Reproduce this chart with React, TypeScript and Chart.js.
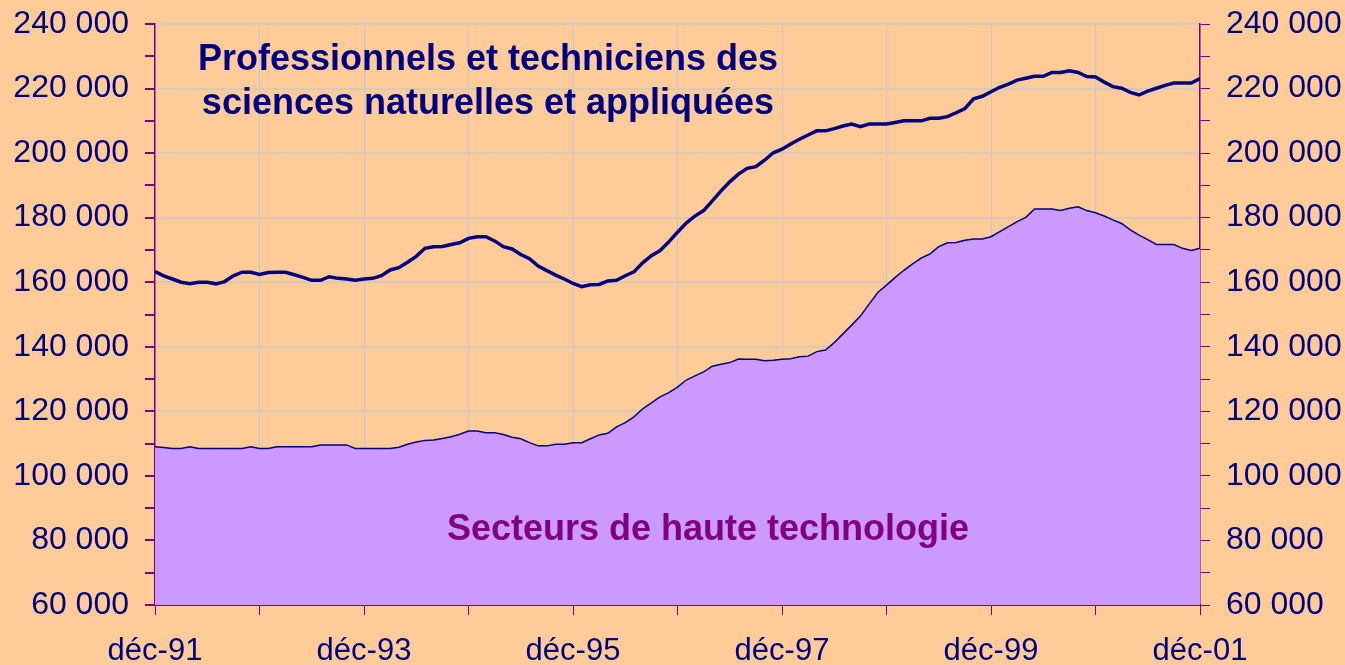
import React, { useEffect, useRef } from "react";
import { Chart, registerables } from "chart.js";

Chart.register(...registerables);

// Monthly data, déc-91 (index 0) to déc-01 (index 120), in thousands
const professionnels: number[] = [
  163.3, 162.0, 161.0, 160.0, 159.5, 160.0, 160.0, 159.5, 160.2, 162.0, 163.1, 163.1,
  162.4, 163.0, 163.1, 163.1, 162.3, 161.5, 160.6, 160.6, 161.7, 161.2, 161.0, 160.6,
  161.0, 161.2, 162.0, 163.8, 164.5, 166.2, 168.0, 170.5, 171.0, 171.1, 171.7, 172.2,
  173.6, 174.1, 174.1, 172.8, 171.0, 170.3, 168.6, 167.3, 165.0, 163.6, 162.2, 161.0,
  159.6, 158.6, 159.2, 159.3, 160.4, 160.6, 162.0, 163.2, 166.0, 168.2, 169.8, 172.5,
  175.5, 178.3, 180.5, 182.2, 185.2, 188.3, 191.1, 193.5, 195.3, 195.8, 197.8, 200.1,
  201.2, 202.8, 204.3, 205.6, 206.9, 206.9, 207.6, 208.4, 209.0, 208.2, 209.0, 209.0,
  209.0, 209.5, 210.0, 210.0, 210.0, 210.8, 210.8, 211.3, 212.5, 213.8, 216.8, 217.6,
  219.0, 220.4, 221.4, 222.6, 223.2, 223.8, 223.8, 225.0, 225.0, 225.5, 225.0, 223.7,
  223.6, 222.0, 220.6, 220.1, 218.8, 218.0, 219.2, 220.1, 221.0, 221.7, 221.7, 221.7,
  223.1,
];

const secteurs: number[] = [
  109.0, 108.8, 108.5, 108.5, 109.0, 108.5, 108.5, 108.5, 108.5, 108.5, 108.5, 109.0,
  108.5, 108.5, 109.0, 109.0, 109.0, 109.0, 109.0, 109.6, 109.6, 109.6, 109.6, 108.5,
  108.5, 108.5, 108.5, 108.5, 108.9, 109.8, 110.5, 111.0, 111.1, 111.6, 112.1, 112.9,
  113.9, 113.9, 113.4, 113.4, 112.8, 112.0, 111.5, 110.3, 109.3, 109.3, 109.8, 109.8,
  110.3, 110.3, 111.5, 112.7, 113.2, 115.2, 116.5, 118.3, 120.8, 122.6, 124.5, 125.8,
  127.5, 129.7, 131.0, 132.2, 134.0, 134.6, 135.1, 136.2, 136.1, 136.1, 135.7, 135.8,
  136.1, 136.3, 136.9, 137.1, 138.5, 139.0, 141.3, 144.0, 146.7, 149.5, 153.2, 156.8,
  159.1, 161.5, 163.7, 165.7, 167.5, 168.8, 171.0, 172.2, 172.3, 173.0, 173.4, 173.4,
  174.1, 175.7, 177.2, 178.8, 180.1, 182.7, 182.7, 182.7, 182.2, 182.9, 183.4, 182.2,
  181.5, 180.5, 179.3, 178.2, 176.2, 174.6, 173.2, 171.7, 171.7, 171.7, 170.5, 169.8,
  170.5,
];

const xTickLabels: string[] = ["déc-91", "déc-93", "déc-95", "déc-97", "déc-99", "déc-01"];
const titleLines: string[] = ["Professionnels et techniciens des", "sciences naturelles et appliquées"];
const areaLabel = "Secteurs de haute technologie";

const FONT = "'Liberation Sans', Arial, Helvetica, sans-serif";
const NAVY = "#000080";
const PURPLE = "#800080";
const BG = "#FFCC99";

const fmt = (v: number) => {
  const k = Math.round(v / 1000);
  return `${k} 000`;
};

export default function App() {
  const ref = useRef<HTMLCanvasElement | null>(null);

  useEffect(() => {
    if (!ref.current) return;
    const profPts = professionnels.map((v, i) => ({ x: i, y: v * 1000 }));
    const sectPts = secteurs.map((v, i) => ({ x: i, y: v * 1000 }));

    const textPlugin = {
      id: "texts",
      afterDatasetsDraw(chart: any) {
        const { ctx } = chart;
        ctx.save();
        ctx.textAlign = "center";
        ctx.textBaseline = "alphabetic";
        ctx.font = `bold 36px ${FONT}`;
        ctx.fillStyle = NAVY;
        ctx.fillText(titleLines[0], 488, 70);
        ctx.fillText(titleLines[1], 488, 114);
        ctx.fillStyle = PURPLE;
        ctx.fillText(areaLabel, 708, 540);
        ctx.restore();
      },
    };

    const yTicks = {
      color: NAVY,
      font: { family: FONT, size: 32 },
      padding: 16,
      stepSize: 10000,
      autoSkip: false,
      callback: (v: any) => (Number(v) % 20000 === 0 ? fmt(Number(v)) : ""),
    };

    const fitY = (w: number) => (scale: any) => {
      scale.width = w;
      scale.paddingTop = 0;
      scale.paddingBottom = 0;
    };

    const chart = new Chart(ref.current, {
      type: "line",
      data: {
        datasets: [
          {
            label: "Professionnels",
            data: profPts,
            borderColor: NAVY,
            borderWidth: 3.5,
            pointRadius: 0,
            fill: false,
            tension: 0,
            yAxisID: "y",
            order: 0,
          },
          {
            label: "Secteurs",
            data: sectPts,
            borderColor: NAVY,
            borderWidth: 1.5,
            backgroundColor: "#CC99FF",
            pointRadius: 0,
            fill: "start",
            tension: 0,
            yAxisID: "y2",
            order: 1,
          },
        ],
      },
      options: {
        animation: false,
        responsive: false,
        events: [],
        layout: { padding: { top: 24, bottom: 0, left: 0, right: 0 } },
        plugins: {
          legend: { display: false },
          tooltip: { enabled: false },
          title: { display: false },
        },
        scales: {
          x: {
            type: "linear",
            min: 0,
            max: 120,
            afterBuildTicks: (scale: any) => {
              const t = [];
              for (let i = 0; i <= 120; i += 12) t.push({ value: i });
              scale.ticks = t;
            },
            afterFit: (scale: any) => {
              scale.height = 60;
              scale.paddingLeft = 0;
              scale.paddingRight = 0;
            },
            ticks: {
              color: NAVY,
              font: { family: FONT, size: 31 },
              padding: 18,
              maxRotation: 0,
              autoSkip: false,
              callback: (v: any) => {
                const n = Number(v);
                return n % 24 === 0 ? xTickLabels[n / 24] : "";
              },
            },
            grid: {
              color: "#BCC8DC",
              lineWidth: 1,
              tickColor: PURPLE,
              tickLength: 10,
              drawTicks: true,
            },
            border: { color: PURPLE, width: 2 },
          },
          y: {
            type: "linear",
            position: "left",
            min: 60000,
            max: 240000,
            afterFit: fitY(155),
            ticks: yTicks,
            grid: {
              color: (ctx: any) =>
                ctx.tick && ctx.tick.value % 20000 === 0 ? "#D6C9BE" : "rgba(0,0,0,0)",
              lineWidth: 2,
              tickColor: PURPLE,
              tickLength: 10,
            },
            border: { color: PURPLE, width: 1.5 },
          },
          y2: {
            type: "linear",
            position: "right",
            min: 60000,
            max: 240000,
            afterFit: fitY(145),
            ticks: yTicks,
            grid: {
              drawOnChartArea: false,
              color: PURPLE,
              tickColor: PURPLE,
              tickLength: 10,
            },
            border: { color: PURPLE, width: 1.5 },
          },
        },
      },
      plugins: [textPlugin],
    } as any);

    return () => chart.destroy();
  }, []);

  return (
    <div
      style={{
        position: "absolute",
        left: 0,
        top: 0,
        width: 1345,
        height: 665,
        background: BG,
        overflow: "hidden",
      }}
    >
      <canvas ref={ref} width={1345} height={665} style={{ display: "block" }} />
    </div>
  );
}
